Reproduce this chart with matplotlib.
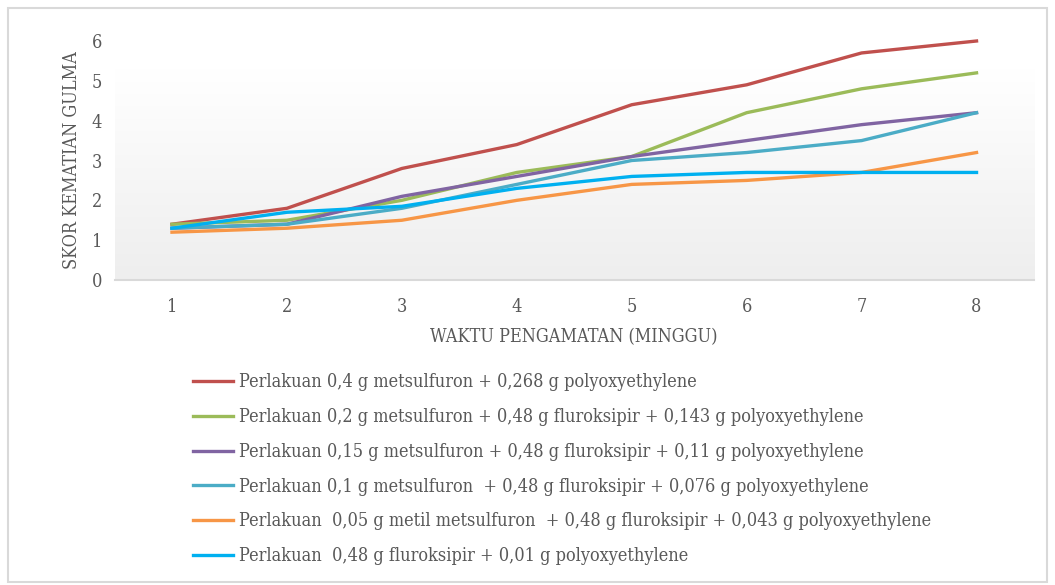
import matplotlib.pyplot as plt
import numpy as np
from matplotlib.patches import Rectangle
from matplotlib.colors import LinearSegmentedColormap

weeks = [1, 2, 3, 4, 5, 6, 7, 8]
red = [1.4, 1.8, 2.8, 3.4, 4.4, 4.9, 5.7, 6.0]
green = [1.4, 1.5, 2.0, 2.7, 3.1, 4.2, 4.8, 5.2]
purple = [1.3, 1.4, 2.1, 2.6, 3.1, 3.5, 3.9, 4.2]
teal = [1.3, 1.4, 1.8, 2.4, 3.0, 3.2, 3.5, 4.2]
orange = [1.2, 1.3, 1.5, 2.0, 2.4, 2.5, 2.7, 3.2]
blue = [1.3, 1.7, 1.85, 2.3, 2.6, 2.7, 2.7, 2.7]

labels = [
    "Perlakuan 0,4 g metsulfuron + 0,268 g polyoxyethylene",
    "Perlakuan 0,2 g metsulfuron + 0,48 g fluroksipir + 0,143 g polyoxyethylene",
    "Perlakuan 0,15 g metsulfuron + 0,48 g fluroksipir + 0,11 g polyoxyethylene",
    "Perlakuan 0,1 g metsulfuron  + 0,48 g fluroksipir + 0,076 g polyoxyethylene",
    "Perlakuan  0,05 g metil metsulfuron  + 0,48 g fluroksipir + 0,043 g polyoxyethylene",
    "Perlakuan  0,48 g fluroksipir + 0,01 g polyoxyethylene",
]
series = [red, green, purple, teal, orange, blue]
colors = ['#C0504D', '#9BBB59', '#8064A2', '#4BACC6', '#F79646', '#00B0F0']

plt.rcParams['font.family'] = ['DejaVu Serif']
plt.rcParams['font.stretch'] = 'condensed'
txt = '#595959'

fig = plt.figure(figsize=(10.55, 5.85), dpi=100)
fig.patches.append(Rectangle((8/1055, 3/585), 1039/1055, 574/585, transform=fig.transFigure,
                             fill=False, edgecolor='#d9d9d9', linewidth=1.5))
ax = fig.add_axes([114.5/1055, 1 - 280/585, (1034 - 114.5)/1055, 239/585])

# gradient wall
grad = np.linspace(0, 1, 100).reshape(-1, 1)
ax.imshow(grad, extent=[0.5, 8.5, 0, 5.3], aspect='auto', origin='upper',
          cmap=LinearSegmentedColormap.from_list('w', ['#ffffff', '#eeeeee']), zorder=0)

handles = []
for vals, c, lab in zip(series, colors, labels):
    h, = ax.plot(weeks, vals, color=c, linewidth=2.4, label=lab, clip_on=False, zorder=3)
    handles.append(h)

ax.set_xlim(0.5, 8.5)
ax.set_ylim(0, 6)
ax.set_xticks(weeks)
ax.set_yticks(range(0, 7))
for s in ['top', 'right', 'left']:
    ax.spines[s].set_visible(False)
ax.spines['bottom'].set_color('#d9d9d9')
ax.spines['bottom'].set_linewidth(1.5)
ax.tick_params(length=0, labelsize=13, labelcolor=txt)
ax.tick_params(axis='x', pad=13)
ax.tick_params(axis='y', pad=9)
ax.set_xlabel("WAKTU PENGAMATAN (MINGGU)", fontsize=13, color=txt, labelpad=9)
ax.set_ylabel("SKOR KEMATIAN GULMA", fontsize=13, color=txt, labelpad=8)

fig.legend(handles, labels, loc='upper left', bbox_to_anchor=(177/1055, 1 - 357/585),
           frameon=False, fontsize=13, labelcolor=txt, handlelength=2.2,
           handletextpad=0.35, labelspacing=0.93)

fig.savefig('out.png', dpi=100)
